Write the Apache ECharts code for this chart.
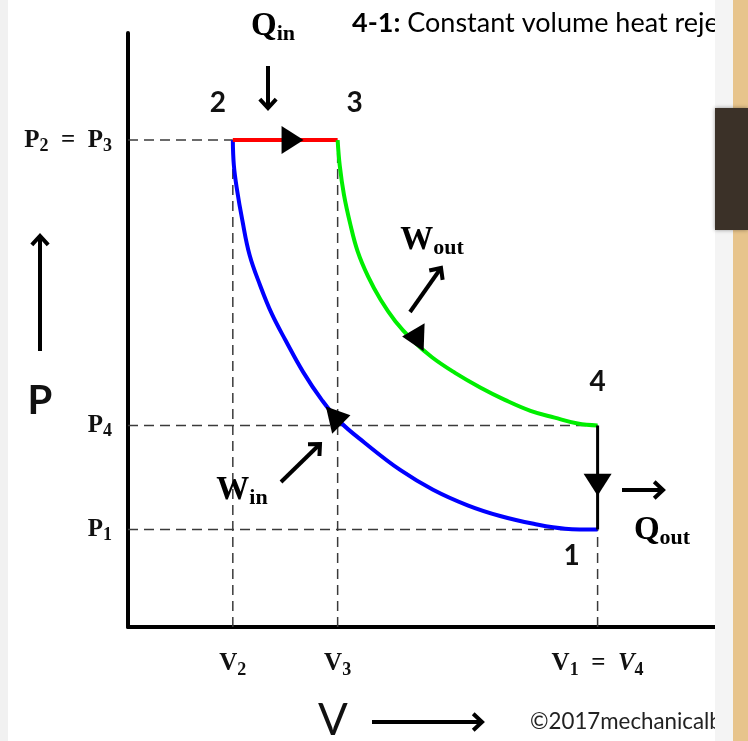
<!DOCTYPE html>
<html>
<head>
<meta charset="utf-8">
<title>Diesel cycle P-V diagram</title>
<script src="https://cdn.jsdelivr.net/npm/echarts@6/dist/echarts.min.js"></script>
<style>
  html, body { margin: 0; padding: 0; background: #fff; }
  #chart { width: 748px; height: 741px; }
</style>
</head>
<body>
<div id="chart"></div>
<script>
// state values (volume / pressure, arbitrary units)
const V2 = 1.0, V3 = 2.0, V1 = 4.48, V4 = 4.48;
const P1 = 1.0, P4 = 2.07, P2 = 5.0, P3 = 5.0;

// 1 -> 2 compression (from point 2 down to point 1)
const compressionV = [1.00, 1.01, 1.04, 1.09, 1.16, 1.26, 1.37, 1.50, 1.67, 1.85, 2.02, 2.26, 2.60, 2.91, 3.24, 3.55, 3.87, 4.17, 4.48];
const compressionP = [5.00, 4.74, 4.49, 4.18, 3.82, 3.51, 3.22, 2.95, 2.62, 2.33, 2.11, 1.89, 1.61, 1.41, 1.25, 1.14, 1.06, 1.01, 1.00];

// 3 -> 4 expansion
const expansionV = [2.00, 2.02, 2.06, 2.12, 2.19, 2.29, 2.41, 2.55, 2.71, 2.90, 3.12, 3.36, 3.60, 3.84, 4.07, 4.29, 4.48];
const expansionP = [5.00, 4.74, 4.44, 4.14, 3.86, 3.60, 3.36, 3.14, 2.95, 2.77, 2.61, 2.46, 2.33, 2.22, 2.15, 2.09, 2.07];

// direction markers on the cycle
const arrowV = [1.57, 2.72, 2.02, 4.48];
const arrowP = [5.00, 2.98, 2.15, 1.46];
const arrowRot = [-90, 88, -77, 180];

// tick labels
const volumeTicks = [V2, V3, V1];
const volumeLabels = ['{v|V}{s|2}', '{v|V}{s|3}', '{v|V}{s|1}{v|  =  }{vi|V}{s|4}'];
const pressureTicks = [P1, P4, P3];
const pressureLabels = ['{v|P}{s|1}', '{v|P}{s|4}', '{v|P}{s|2}{v|  =  P}{s|3}'];

// state point labels
const stateNames = ['1', '2', '3', '4'];
const stateV = [V1, V2, V3, V4];
const stateP = [P1, P2, P3, P4];
const stateOffset = [[-26, 26], [-15, -37], [17, -37], [0, -43]];

const serif = "'Liberation Serif', 'DejaVu Serif', serif";
const sans = "Lato, 'Open Sans', sans-serif";

const rich = {
    v: { fontFamily: serif, fontWeight: 'bold', fontSize: 25, color: '#111', lineHeight: 30 },
    vi: { fontFamily: serif, fontWeight: 'bold', fontStyle: 'italic', fontSize: 25, color: '#111', lineHeight: 30 },
    s: { fontFamily: serif, fontWeight: 'bold', fontSize: 18, color: '#111', lineHeight: 17, verticalAlign: 'bottom' }
};
const bigRich = {
    v: { fontFamily: serif, fontWeight: 'bold', fontSize: 33, color: '#111', lineHeight: 38 },
    s: { fontFamily: serif, fontWeight: 'bold', fontSize: 22, color: '#111', lineHeight: 22, verticalAlign: 'bottom' }
};

const zip = (xs, ys) => xs.map((x, i) => [x, ys[i]]);

// dashed guides
const guides = [
    [[0, P3], [V2, P3]],
    [[0, P4], [V4, P4]],
    [[0, P1], [V1, P1]],
    [[V2, 0], [V2, P2]],
    [[V3, 0], [V3, P3]],
    [[V1, 0], [V1, P1]]
];

const guideSeries = guides.map(seg => ({
    type: 'line',
    data: seg,
    symbol: 'none',
    silent: true,
    z: 1,
    lineStyle: { color: '#3a3a3a', width: 1.5, type: [10, 6] }
}));

// black annotation arrow (shaft + open head)
function arrow(x1, y1, x2, y2) {
    const a = Math.atan2(y2 - y1, x2 - x1);
    const h = 12;
    const p1 = [x2 - h * Math.cos(a - 0.75), y2 - h * Math.sin(a - 0.75)];
    const p2 = [x2 - h * Math.cos(a + 0.75), y2 - h * Math.sin(a + 0.75)];
    return {
        type: 'group',
        children: [
            { type: 'line', shape: { x1: x1, y1: y1, x2: x2, y2: y2 }, style: { stroke: '#000', lineWidth: 4 } },
            { type: 'polyline', shape: { points: [p1, [x2, y2], p2] }, style: { stroke: '#000', lineWidth: 4, fill: null, lineJoin: 'miter' } }
        ]
    };
}

function label(x, y, text, r) {
    return { type: 'text', x: x, y: y, z: 10, style: { text: text, rich: r || bigRich, align: 'center', verticalAlign: 'middle' } };
}

const chart = echarts.init(document.getElementById('chart'));

const decorations = [
    // page edges
    { type: 'rect', shape: { x: 0, y: 0, width: 8, height: 741 }, style: { fill: '#f1f1f1' }, z: 0 },
    { type: 'rect', shape: { x: 715, y: 0, width: 18, height: 741 }, style: { fill: '#f4f4f4' }, z: 20 },
    { type: 'rect', shape: { x: 733, y: 0, width: 15, height: 741 }, style: { fill: '#e7c48c' }, z: 20 },
    { type: 'rect', shape: { x: 715, y: 108, width: 33, height: 122 }, style: { fill: '#3b3128', shadowBlur: 4, shadowColor: 'rgba(0,0,0,0.4)' }, z: 21 },

    // title text, clipped by the right strip
    {
        type: 'text', x: 352, y: 23, z: 10,
        style: {
            text: '{b|4-1:}{r| Constant volume heat rejection}',
            verticalAlign: 'middle',
            rich: {
                b: { fontFamily: sans, fontWeight: 'bold', fontSize: 27, color: '#111' },
                r: { fontFamily: sans, fontSize: 27, color: '#222' }
            }
        }
    },
    {
        type: 'text', x: 530, y: 722, z: 10,
        style: { text: '©2017mechanicalbooster', fontFamily: sans, fontSize: 22.3, fill: '#222', verticalAlign: 'middle' }
    },

    // annotation labels
    label(273, 26, '{v|Q}{s|in}'),
    label(432, 240, '{v|W}{s|out}'),
    label(242, 490, '{v|W}{s|in}'),
    label(662, 530, '{v|Q}{s|out}'),
    { type: 'text', x: 40, y: 401, z: 10, style: { text: 'P', fontFamily: sans, fontWeight: 'bold', fontSize: 40, fill: '#111', align: 'center', verticalAlign: 'middle' } },
    { type: 'text', x: 333, y: 721, z: 10, style: { text: 'V', fontFamily: sans, fontSize: 44, fill: '#111', align: 'center', verticalAlign: 'middle' } },

    // annotation arrows
    arrow(268, 66, 268, 108),
    arrow(410, 312, 441, 268),
    arrow(281, 482, 320, 444),
    arrow(622, 490, 663, 490),
    arrow(40, 351, 40, 236),
    arrow(372, 722, 482, 722)
];

const option = {
    backgroundColor: '#fff',
    animation: false,
    grid: { left: 128, right: 33, top: 33, bottom: 114 },
    xAxis: {
        type: 'value',
        min: 0,
        max: 5.6,
        splitLine: { show: false },
        axisTick: { show: false },
        axisLine: { lineStyle: { color: '#000', width: 4 } },
        axisLabel: {
            customValues: volumeTicks,
            margin: 22,
            formatter: v => volumeLabels[volumeTicks.indexOf(v)] || '',
            rich: rich
        }
    },
    yAxis: {
        type: 'value',
        min: 0,
        max: 6.1,
        splitLine: { show: false },
        axisTick: { show: false },
        axisLine: { lineStyle: { color: '#000', width: 4 } },
        axisLabel: {
            customValues: pressureTicks,
            margin: 16,
            formatter: v => pressureLabels[pressureTicks.indexOf(v)] || '',
            rich: rich
        }
    },
    series: guideSeries.concat([
        {
            name: 'compression',
            type: 'line',
            data: zip(compressionV, compressionP),
            smooth: 0.4,
            symbol: 'none',
            z: 3,
            lineStyle: { color: '#0000ff', width: 4 }
        },
        {
            name: 'heat addition',
            type: 'line',
            data: [[V2, P2], [V3, P3]],
            symbol: 'none',
            z: 3,
            lineStyle: { color: '#ff0000', width: 4 }
        },
        {
            name: 'expansion',
            type: 'line',
            data: zip(expansionV, expansionP),
            smooth: 0.4,
            symbol: 'none',
            z: 3,
            lineStyle: { color: '#00ee00', width: 4 }
        },
        {
            name: 'heat rejection',
            type: 'line',
            data: [[V4, P4], [V1, P1]],
            symbol: 'none',
            z: 3,
            lineStyle: { color: '#000', width: 3 }
        },
        {
            name: 'direction',
            type: 'scatter',
            z: 4,
            silent: true,
            data: arrowV.map((v, i) => ({
                value: [v, arrowP[i]],
                symbolRotate: arrowRot[i]
            })),
            symbol: 'triangle',
            symbolSize: [28, 22],
            itemStyle: { color: '#000', opacity: 1 }
        }
    ]),
    graphic: decorations
};

chart.setOption(option);

// state numbers placed next to their points
const stateLabels = stateNames.map((n, i) => {
    const pt = chart.convertToPixel({ gridIndex: 0 }, [stateV[i], stateP[i]]);
    return {
        type: 'text', z: 10,
        x: pt[0] + stateOffset[i][0], y: pt[1] + stateOffset[i][1],
        style: { text: n, fontFamily: sans, fontWeight: 'bold', fontSize: 28, fill: '#111', align: 'center', verticalAlign: 'middle' }
    };
});
chart.setOption({ graphic: decorations.concat(stateLabels) });
</script>
</body>
</html>
